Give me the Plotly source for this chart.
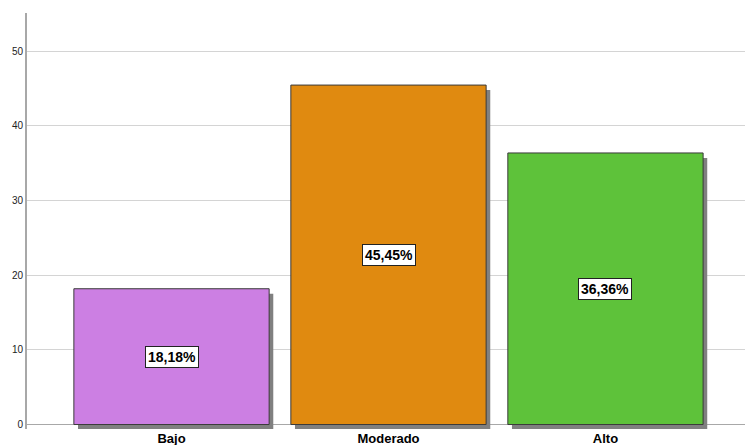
import plotly.graph_objects as go

categories = ["Bajo", "Moderado", "Alto"]
percentages = [18.18, 45.45, 36.36]
bar_colors = ["#CC7FE3", "#E08A10", "#5EC23A"]
y_ticks = [0, 10, 20, 30, 40, 50]

font_family = "Arial, Liberation Sans, sans-serif"
bar_width = 0.9
# drop shadow offset, in axis units (~4 px right, ~5 px down)
shadow_dx = 0.019
shadow_dy = 0.67

fig = go.Figure()

# drop shadows behind each bar
fig.add_trace(go.Bar(
    x=categories,
    y=percentages,
    base=[-shadow_dy] * len(percentages),
    width=bar_width,
    offset=-bar_width / 2 + shadow_dx,
    marker=dict(color="#808080", line=dict(width=0)),
    hoverinfo="skip",
    showlegend=False,
))

# main bars
fig.add_trace(go.Bar(
    x=categories,
    y=percentages,
    width=bar_width,
    offset=-bar_width / 2,
    marker=dict(color=bar_colors, line=dict(color="#3a3a3a", width=1)),
    showlegend=False,
))

# boxed value labels at half bar height
for cat, val in zip(categories, percentages):
    fig.add_annotation(
        x=cat, y=val / 2,
        text="<b>" + f"{val:.2f}".replace(".", ",") + "%</b>",
        showarrow=False,
        font=dict(family=font_family, size=14, color="black"),
        bgcolor="white",
        bordercolor="#222222",
        borderwidth=1,
        borderpad=2,
    )

fig.update_layout(
    width=745, height=445,
    margin=dict(l=27, r=0, t=13, b=16),
    paper_bgcolor="white",
    plot_bgcolor="white",
    barmode="overlay",
    font=dict(family=font_family),
)

fig.update_xaxes(
    range=[-0.666, 2.643],
    showgrid=False,
    showline=False,
    ticks="",
    tickfont=dict(family=font_family, size=13, color="black", weight="bold"),
)

fig.update_yaxes(
    range=[-0.6, 55.1],
    tickvals=y_ticks,
    showgrid=True,
    gridcolor="#d4d4d4",
    gridwidth=1,
    zeroline=True,
    zerolinecolor="#a8a8a8",
    zerolinewidth=1,
    showline=True,
    linecolor="#a8a8a8",
    linewidth=2,
    ticks="",
    tickfont=dict(family=font_family, size=10, color="#222222"),
)

fig.write_html("out.html")
